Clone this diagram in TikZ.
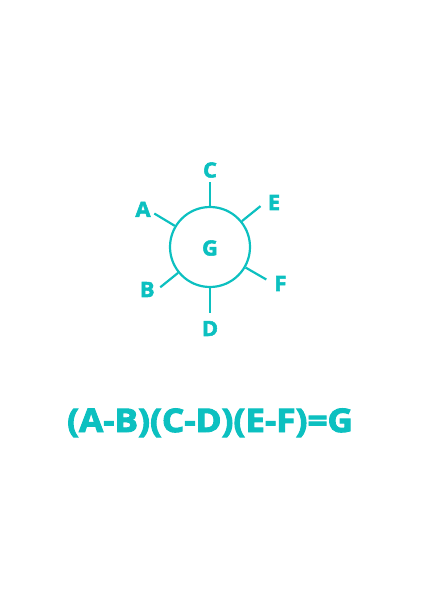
\documentclass[tikz,border=0pt]{standalone}
\usepackage{fontspec}
\setmainfont{Open Sans}
\newfontfamily\xbold{Open Sans}[UprightFont=* Bold,FakeBold=3,FakeStretch=1.08]
\newfontfamily\lbold{Open Sans}[UprightFont=* Bold,FakeBold=2.5,FakeStretch=1.04]
\usetikzlibrary{calc}
\definecolor{cy}{HTML}{0CC0C0}
\begin{document}
\begin{tikzpicture}[x=1bp,y=-1bp,
  lbl/.style={text=cy,font=\fontsize{21bp}{24bp}\selectfont\lbold,inner sep=0pt},
  spoke/.style={draw=cy,line width=2.2bp},
  ring/.style={circle,draw=cy,line width=2.2bp,minimum size=80bp,inner sep=0pt}]
\useasboundingbox (0,0) rectangle (420,594);
\node[ring] (g) at (210,247) {};
\node[lbl] (gl) at (210,248) {G};
% spoke outer ends (screen angle theta -> polar -theta)
\coordinate (ce) at ($(g.center)+(-90:65)$);
\coordinate (de) at ($(g.center)+(90:66)$);
\coordinate (ee) at ($(g.center)+(-39:65)$);
\coordinate (ae) at ($(g.center)+(-149:65)$);
\coordinate (be) at ($(g.center)+(141:64)$);
\coordinate (fe) at ($(g.center)+(30:65)$);
\draw[spoke] (g.90) -- (ce);
\draw[spoke] (g.270) -- (de);
\draw[spoke] (g.39) -- (ee);
\draw[spoke] (g.149) -- (ae);
\draw[spoke] (g.219) -- (be);
\draw[spoke] (g.330) -- (fe);
\node[lbl] (c) at (210,170) {C};
\node[lbl] (d) at (210,328.5) {D};
\node[lbl] (e) at (274,202.5) {E};
\node[lbl] (a) at (143,209.3) {A};
\node[lbl] (b) at (147.3,289.5) {B};
\node[lbl] (f) at (280.5,283.5) {F};
\node[text=cy,font=\fontsize{32.5bp}{36bp}\selectfont\xbold,inner sep=0pt,anchor=base] (eq) at (210,432) {(A-B)(C-D)(E-F)=G};
\end{tikzpicture}
\end{document}
